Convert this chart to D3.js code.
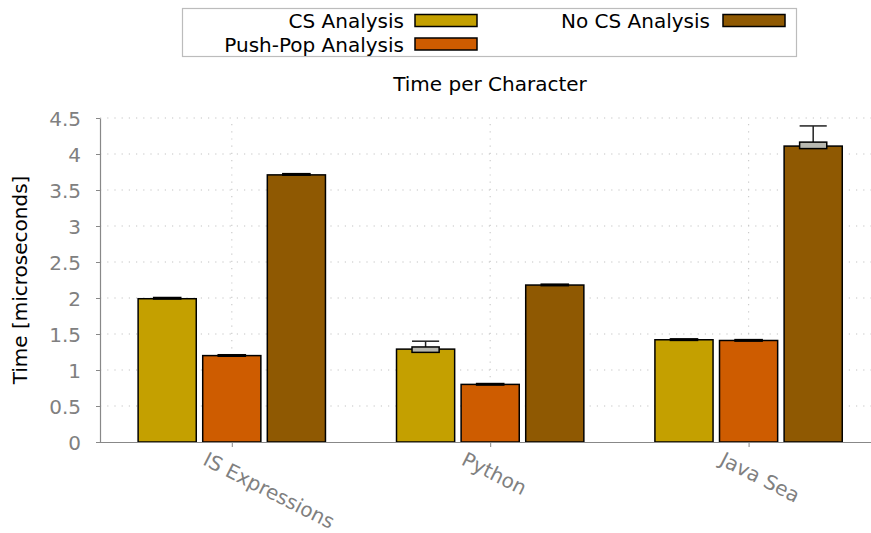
<!DOCTYPE html>
<html>
<head>
<meta charset="utf-8">
<script src="https://cdn.jsdelivr.net/npm/d3@7"></script>
<style>
  body { margin: 0; background: #fff; }
  svg { display: block; font-family: "DejaVu Sans", sans-serif; }
</style>
</head>
<body>
<svg id="chart" width="871" height="533"></svg>
<script>
// data
const benchmarks = ["IS Expressions", "Python", "Java Sea"];
const seriesNames = ["CS Analysis", "Push-Pop Analysis", "No CS Analysis"];
const seriesColors = ["#c4a000", "#ce5c00", "#8f5902"];

const csValues      = [1.99, 1.29, 1.42];
const pushPopValues = [1.20, 0.80, 1.41];
const noCsValues    = [3.71, 2.18, 4.11];

// error boxes (low, high) and whiskers (min, max)
const csBoxLow       = [1.98, 1.245, 1.415];
const csBoxHigh      = [2.00, 1.32, 1.425];
const csMin          = [1.98, 1.24, 1.415];
const csMax          = [2.00, 1.40, 1.425];
const pushPopBoxLow  = [1.195, 0.795, 1.40];
const pushPopBoxHigh = [1.205, 0.805, 1.415];
const pushPopMin     = [1.195, 0.795, 1.40];
const pushPopMax     = [1.205, 0.805, 1.415];
const noCsBoxLow     = [3.70, 2.175, 4.075];
const noCsBoxHigh    = [3.72, 2.185, 4.165];
const noCsMin        = [3.70, 2.175, 4.07];
const noCsMax        = [3.72, 2.185, 4.39];

const yTicks = [0, 0.5, 1, 1.5, 2, 2.5, 3, 3.5, 4, 4.5];

const series = [
  {values: csValues, lo: csBoxLow, hi: csBoxHigh, min: csMin, max: csMax},
  {values: pushPopValues, lo: pushPopBoxLow, hi: pushPopBoxHigh, min: pushPopMin, max: pushPopMax},
  {values: noCsValues, lo: noCsBoxLow, hi: noCsBoxHigh, min: noCsMin, max: noCsMax}
];

const svg = d3.select("#chart");
const plotLeft = 100, plotBottom = 442, plotTop = 118;
const fontSize = "20px";

const x = d3.scaleLinear().domain([-0.51, 2.5]).range([plotLeft, plotLeft + 3.01 * 258.4]);
const y = d3.scaleLinear().domain([0, 4.5]).range([plotBottom, plotTop]);

const slot = 0.25, barW = 0.225, errW = 0.105;

// grid
const grid = svg.append("g");
grid.selectAll("line.h").data(yTicks.slice(1)).enter().append("line")
  .attr("x1", plotLeft).attr("x2", 871)
  .attr("y1", d => y(d)).attr("y2", d => y(d))
  .attr("stroke", "#c4c4c4").attr("stroke-width", 1.2)
  .attr("stroke-dasharray", "1.2,6");
grid.selectAll("line.v").data(benchmarks).enter().append("line")
  .attr("x1", (d, i) => x(i)).attr("x2", (d, i) => x(i))
  .attr("y1", plotBottom).attr("y2", plotTop)
  .attr("stroke", "#cccccc").attr("stroke-width", 1.2)
  .attr("stroke-dasharray", "1.2,6");

// bars
series.forEach((s, si) => {
  const g = svg.append("g");
  const off = (si - 1) * slot;
  g.selectAll("rect").data(s.values).enter().append("rect")
    .attr("x", (d, i) => x(i + off - barW / 2))
    .attr("width", x(barW) - x(0))
    .attr("y", d => y(d))
    .attr("height", d => y(0) - y(d))
    .attr("fill", seriesColors[si])
    .attr("stroke", "#000").attr("stroke-width", 1.5);
});

// error boxes and whiskers
series.forEach((s, si) => {
  const g = svg.append("g");
  const off = (si - 1) * slot;
  s.values.forEach((v, i) => {
    const cx = x(i + off);
    const hw = (x(errW) - x(0)) / 2;
    g.append("line")
      .attr("x1", cx).attr("x2", cx)
      .attr("y1", y(s.hi[i])).attr("y2", y(s.max[i]))
      .attr("stroke", "#222").attr("stroke-width", 1.5);
    g.append("line")
      .attr("x1", cx).attr("x2", cx)
      .attr("y1", y(s.lo[i])).attr("y2", y(s.min[i]))
      .attr("stroke", "#222").attr("stroke-width", 1.5);
    g.append("line")
      .attr("x1", cx - hw).attr("x2", cx + hw)
      .attr("y1", y(s.max[i])).attr("y2", y(s.max[i]))
      .attr("stroke", "#222").attr("stroke-width", 1.5);
    const h = y(s.lo[i]) - y(s.hi[i]);
    g.append("rect")
      .attr("x", cx - hw).attr("width", 2 * hw)
      .attr("y", h < 1.5 ? y(s.hi[i]) - 0.5 : y(s.hi[i]))
      .attr("height", Math.max(1.5, h))
      .attr("fill", h < 1.5 ? "#000" : "#b8b8b0")
      .attr("stroke", "#000").attr("stroke-width", 1.5);
  });
});

// axes
const axisColor = "#888";
const yAxis = svg.append("g").attr("transform", `translate(${plotLeft},0)`)
  .call(d3.axisLeft(y).tickValues(yTicks).tickSize(4).tickSizeOuter(0).tickFormat(d3.format("")));
const xAxis = svg.append("g").attr("transform", `translate(0,${plotBottom})`)
  .call(d3.axisBottom(x).tickValues([0, 1, 2]).tickSize(5).tickSizeOuter(0).tickFormat(""));
[yAxis, xAxis].forEach(a => {
  a.select(".domain").attr("stroke", axisColor).attr("stroke-width", 1.2);
  a.selectAll(".tick line").attr("stroke", axisColor);
});
xAxis.select(".domain").attr("d", `M${plotLeft},0.5H871`);
yAxis.selectAll(".tick text")
  .attr("x", -19).attr("dy", "0.36em").attr("fill", "#808080")
  .style("font-size", fontSize).style("font-family", "DejaVu Sans");

// x labels, rotated
svg.append("g").selectAll("text").data(benchmarks).enter().append("text")
  .attr("transform", (d, i) => `translate(${x(i) - 30},${plotBottom + 22}) rotate(27)`)
  .attr("fill", "#808080")
  .style("font-size", fontSize)
  .text(d => d);

// titles
svg.append("text")
  .attr("x", 490).attr("y", 91)
  .attr("text-anchor", "middle")
  .style("font-size", fontSize)
  .text("Time per Character");
svg.append("text")
  .attr("transform", `translate(27,280) rotate(-90)`)
  .attr("text-anchor", "middle")
  .style("font-size", fontSize)
  .text("Time [microseconds]");

// legend
const legend = svg.append("g");
legend.append("rect")
  .attr("x", 182.5).attr("y", 8.5).attr("width", 614).attr("height", 48)
  .attr("fill", "none").attr("stroke", "#bcbcbc").attr("stroke-width", 1.2);
const legendPos = [[404, 415, 20.5], [404, 415, 44], [710, 723, 20.5]];
seriesNames.forEach((name, i) => {
  const [tx, sx, cy] = legendPos[i];
  legend.append("text")
    .attr("x", tx).attr("y", cy + 7.5)
    .attr("text-anchor", "end")
    .style("font-size", fontSize)
    .text(name);
  legend.append("rect")
    .attr("x", sx).attr("y", cy - 6).attr("width", 62).attr("height", 12)
    .attr("fill", seriesColors[i])
    .attr("stroke", "#000").attr("stroke-width", 1.5);
});
</script>
</body>
</html>
